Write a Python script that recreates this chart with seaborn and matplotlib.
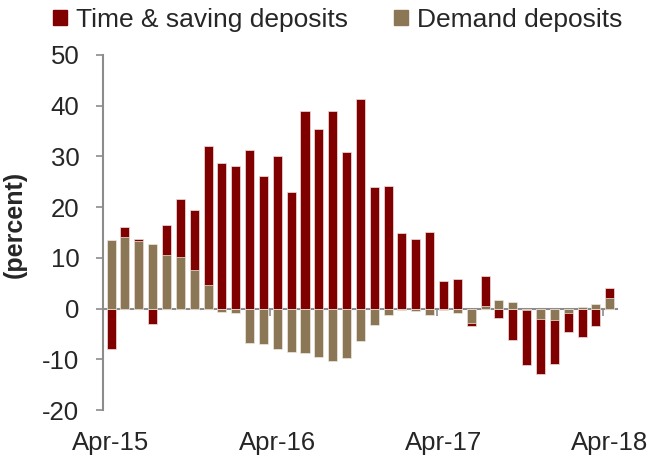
import seaborn as sns
import matplotlib.pyplot as plt
import matplotlib.patches as mpatches
import pandas as pd

# monthly data, Apr-15 .. Apr-18 (37 months)
months = pd.date_range("2015-04-01", periods=37, freq="MS").strftime("%b-%y").tolist()

time_saving = [-7.9, 16.1, 13.7, -3.0, 16.5, 21.7, 19.4, 32.1, 28.8, 28.1,
               31.2, 26.1, 30.0, 22.9, 39.0, 35.4, 38.9, 30.8, 41.3, 24.0,
               24.1, 15.0, 13.7, 15.1, 5.4, 5.8, -3.5, 6.5, -1.8, -6.2,
               -11.1, -12.9, -10.9, -4.7, -5.7, -3.5, 4.0]
demand = [13.5, 14.2, 13.4, 12.7, 10.6, 10.2, 7.7, 4.7, -0.7, -0.9,
          -6.8, -7.0, -7.9, -8.6, -8.8, -9.5, -10.3, -9.7, -6.3, -3.2,
          -1.2, -0.2, -0.5, -1.2, -0.3, -0.9, -2.8, 0.6, 1.6, 1.2,
          -0.2, -2.0, -2.2, -0.9, 0.3, 1.0, 2.0]

tick_labels = ["Apr-15", "Apr-16", "Apr-17", "Apr-18"]

df = pd.DataFrame({"Month": months, "Time": time_saving, "Demand": demand})

red = "#800000"
tan = "#8B7756"
grey = "#8c8c8c"

sns.set_style("white")
plt.rcParams["font.family"] = ["Liberation Sans", "DejaVu Sans"]
plt.rcParams["axes.unicode_minus"] = False

fig = plt.figure(figsize=(6.54, 4.61), dpi=100)
ax = fig.add_axes([0.1575, 0.1106, 0.7855, 0.7701])

sns.barplot(data=df, x="Month", y="Time", color=red, width=0.65,
            edgecolor="#f0e0e0", linewidth=0.5, saturation=1, ax=ax)
sns.barplot(data=df, x="Month", y="Demand", color=tan, width=0.65,
            edgecolor="#f0e8e0", linewidth=0.5, saturation=1, ax=ax)

ax.set_ylim(-20, 50)
ax.set_xlim(-0.58, 36.5)
ax.set_yticks(range(-20, 51, 10))
ax.tick_params(axis="y", labelsize=18.5, length=5, width=1.2, color=grey,
               direction="out", left=True, pad=12)

# category axis crosses at zero
ax.spines["bottom"].set_position(("data", 0))
ax.spines["bottom"].set_color(grey)
ax.spines["bottom"].set_linewidth(1.5)
ax.spines["bottom"].set_zorder(0.5)
ax.spines["left"].set_color(grey)
ax.spines["left"].set_linewidth(1.5)
ax.spines["top"].set_visible(False)
ax.spines["right"].set_visible(False)

ax.set_xticks([11.5, 23.5, 35.5])
ax.set_xticklabels([])
ax.tick_params(axis="x", length=5, width=1.2, color=grey, direction="out", bottom=True)
ax.set_xlabel("")
ax.set_ylabel("(percent)", fontsize=18, fontweight="bold")
ax.yaxis.set_label_coords(-0.148, 0.524)

sec = ax.secondary_xaxis("bottom")
sec.set_xticks([0, 12, 24, 36])
sec.set_xticklabels(tick_labels)
sec.tick_params(length=0, labelsize=18.5, pad=15)
sec.spines["bottom"].set_visible(False)

handles = [mpatches.Patch(color=red, label="Time & saving deposits"),
           mpatches.Patch(color=tan, label="Demand deposits")]
fig.legend(handles=handles, loc="upper left", bbox_to_anchor=(0.081, 0.983), ncol=2,
           frameon=False, fontsize=19, handlelength=0.53, handleheight=0.53,
           handletextpad=0.33, columnspacing=1.75, borderpad=0, borderaxespad=0)

plt.savefig("out.png", dpi=100)
plt.close()
